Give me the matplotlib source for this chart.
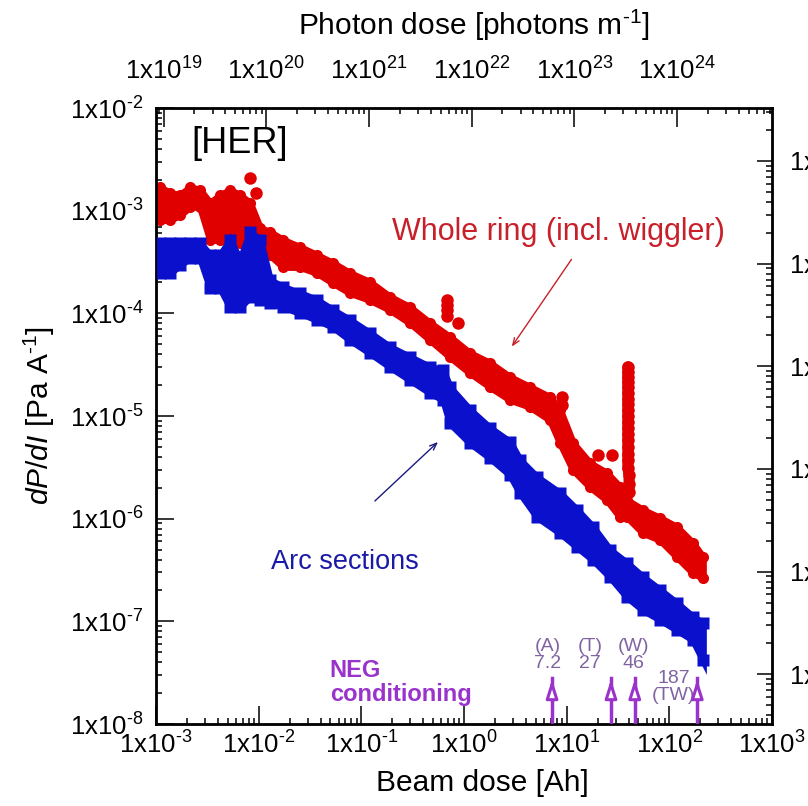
import numpy as np
import matplotlib.pyplot as plt
from matplotlib.ticker import LogLocator, NullFormatter, FuncFormatter

plt.rcParams["font.family"] = "Liberation Sans"
plt.rcParams["mathtext.fontset"] = "custom"
plt.rcParams["mathtext.rm"] = "Liberation Sans"
plt.rcParams["mathtext.it"] = "Liberation Sans:italic"

# Whole ring (incl. wiggler): upper / lower edge of the scatter band
red_x = [1.09e-3, 1.37e-3, 1.71e-3, 2.14e-3, 2.68e-3, 3.36e-3, 4.20e-3, 5.26e-3,
         6.58e-3, 8.23e-3, 1.03e-2, 1.29e-2, 1.73e-2, 2.52e-2, 3.70e-2, 5.28e-2,
         7.74e-2, 0.121, 0.190, 0.297, 0.466, 0.729, 1.14, 1.79, 2.80, 4.38,
         6.86, 8.59, 11.5, 16.8, 24.6, 33.0, 38.6, 55.2, 80.8, 118, 169, 212]
red_hi = [1.70e-3, 1.49e-3, 1.42e-3, 1.70e-3, 1.59e-3, 1.19e-3, 1.42e-3, 1.59e-3,
          1.42e-3, 1.19e-3, 6.79e-4, 6.21e-4, 5.19e-4, 4.43e-4, 3.70e-4, 3.10e-4,
          2.47e-4, 2.02e-4, 1.45e-4, 1.15e-4, 8.07e-5, 5.89e-5, 4.11e-5, 3.29e-5,
          2.40e-5, 1.92e-5, 1.53e-5, 1.15e-5, 5.47e-6, 3.49e-6, 2.79e-6, 2.04e-6,
          1.52e-6, 1.22e-6, 1.02e-6, 8.32e-7, 5.81e-7, 4.25e-7]
red_lo = [8.11e-4, 8.11e-4, 9.08e-4, 1.09e-3, 1.09e-3, 5.19e-4, 5.19e-4, 5.80e-4,
          4.85e-4, 6.79e-4, 4.14e-4, 3.70e-4, 2.83e-4, 2.83e-4, 2.47e-4, 1.98e-4,
          1.58e-4, 1.35e-4, 1.08e-4, 8.07e-5, 5.51e-5, 3.76e-5, 2.63e-5, 1.92e-5,
          1.44e-5, 1.23e-5, 9.17e-6, 5.47e-6, 2.99e-6, 2.04e-6, 1.52e-6, 1.04e-6,
          1.04e-6, 7.27e-7, 6.22e-7, 4.25e-7, 2.97e-7, 2.65e-7]

# isolated points of the whole ring
red_spike_x = [8.23e-3, 9.42e-3, 0.681, 0.681, 0.681, 0.681, 0.873, 8.98, 8.98,
               20.1, 27.5]
red_spike_y = [2.08e-3, 1.49e-3, 1.35e-4, 1.20e-4, 1.08e-4, 9.5e-5, 8.07e-5, 1.53e-5,
               1.28e-5, 4.18e-6, 4.18e-6]

# pressure burst of the whole ring near 40 Ah
red_burst_x = [39.4, 39.4, 39.4, 39.4, 39.4, 39.4, 39.4, 39.4, 39.4, 39.4, 39.4,
               39.4, 39.4, 39.4, 39.4, 39.4, 39.4, 39.4, 40.5, 40.5, 40.5]
red_burst_y = [3.01e-5, 2.70e-5, 2.41e-5, 2.15e-5, 1.90e-5, 1.68e-5, 1.48e-5, 1.30e-5,
               1.14e-5, 1.00e-5, 8.80e-6, 7.70e-6, 6.70e-6, 5.80e-6, 5.00e-6, 4.30e-6,
               3.70e-6, 3.15e-6, 2.65e-6, 2.20e-6, 1.80e-6]

# Arc sections: upper / lower edge of the scatter band
blue_x = [1.09e-3, 1.37e-3, 1.71e-3, 2.14e-3, 2.68e-3, 3.36e-3, 4.20e-3, 5.26e-3,
          6.58e-3, 8.23e-3, 1.03e-2, 1.29e-2, 1.73e-2, 2.52e-2, 3.70e-2, 5.28e-2,
          7.74e-2, 0.121, 0.190, 0.297, 0.466, 0.624, 0.729, 1.14, 1.79, 2.80,
          3.50, 5.13, 8.59, 12.6, 18.0, 26.4, 38.6, 55.2, 80.8, 118, 169, 212]
blue_hi = [4.85e-4, 4.85e-4, 4.85e-4, 4.85e-4, 4.85e-4, 3.70e-4, 3.70e-4, 5.19e-4,
           3.31e-4, 6.21e-4, 5.19e-4, 2.11e-4, 1.81e-4, 1.58e-4, 1.35e-4, 1.08e-4,
           8.63e-5, 6.45e-5, 4.71e-5, 3.76e-5, 3.01e-5, 2.81e-5, 1.90e-5, 1.15e-5,
           7.66e-6, 5.60e-6, 3.74e-6, 2.55e-6, 1.78e-6, 1.22e-6, 8.32e-7, 4.97e-7,
           3.71e-7, 2.71e-7, 2.03e-7, 1.51e-7, 1.11e-7, 9.67e-8]
blue_lo = [2.47e-4, 2.47e-4, 2.96e-4, 3.46e-4, 3.46e-4, 1.77e-4, 1.77e-4, 1.15e-4,
           1.15e-4, 1.45e-4, 1.35e-4, 1.26e-4, 1.15e-4, 1.01e-4, 8.63e-5, 7.38e-5,
           5.51e-5, 4.11e-5, 3.01e-5, 2.25e-5, 1.68e-5, 1.44e-5, 8.5e-6, 5.47e-6,
           3.91e-6, 2.67e-6, 1.78e-6, 1.04e-6, 7.27e-7, 5.31e-7, 3.97e-7, 2.71e-7,
           1.73e-7, 1.29e-7, 1.04e-7, 8.26e-8, 6.61e-8, 4.22e-8]

# NEG conditioning marks [Ah]
neg_dose = [7.2, 27, 46, 187]
neg_labels = ["(A)\n7.2", "(T)\n27", "(W)\n46", "187\n(TW)"]

# photon dose per beam dose [photons m^-1 / Ah]
photons_per_ah = 8.45e21

RED = "#e00000"
BLUE = "#0a10cc"
PURPLE = "#9933cc"


def sci_label(v, _):
    e = int(round(np.log10(v)))
    if e < 0:
        return f"1x10$^{{\\text{{-}}{-e}}}$"
    return f"1x10$^{{{e}}}$"


fig = plt.figure(figsize=(8.08, 8.06), dpi=100)
ax = fig.add_axes([0.1931, 0.1017, 0.7624, 0.7643])
ax.set_xscale("log")
ax.set_yscale("log")
ax.set_xlim(1e-3, 1e3)
ax.set_ylim(1e-8, 1e-2)

# data bands
ax.fill_between(red_x, red_lo, red_hi, facecolor=RED, edgecolor=RED, lw=5,
                joinstyle="round", zorder=2)
ax.plot(red_x, red_hi, "o", ms=8, color=RED, mec="none", zorder=2)
ax.plot(red_x, red_lo, "o", ms=8, color=RED, mec="none", zorder=2)
ax.plot(red_spike_x, red_spike_y, "o", ms=9, color=RED, mec="none", zorder=2)
ax.plot(red_burst_x, red_burst_y, "-o", ms=9, lw=8, color=RED, mec="none",
        solid_capstyle="round", zorder=2)

ax.fill_between(blue_x, blue_lo, blue_hi, facecolor=BLUE, edgecolor=BLUE, lw=5,
                joinstyle="miter", zorder=3)
ax.plot(blue_x, blue_hi, "s", ms=8, color=BLUE, mec="none", zorder=3)
ax.plot(blue_x, blue_lo, "s", ms=8, color=BLUE, mec="none", zorder=3)

# axes styling
for sp in ax.spines.values():
    sp.set_linewidth(2)
ax.xaxis.set_major_locator(LogLocator(base=10, numticks=20))
ax.xaxis.set_minor_locator(LogLocator(base=10, subs=np.arange(2, 10), numticks=20))
ax.yaxis.set_major_locator(LogLocator(base=10, numticks=20))
ax.yaxis.set_minor_locator(LogLocator(base=10, subs=np.arange(2, 10), numticks=20))
ax.xaxis.set_major_formatter(FuncFormatter(sci_label))
ax.yaxis.set_major_formatter(FuncFormatter(sci_label))
ax.xaxis.set_minor_formatter(NullFormatter())
ax.yaxis.set_minor_formatter(NullFormatter())
ax.tick_params(which="both", direction="in", top=False, right=False,
               labelsize=18.5, width=1.1)
ax.tick_params(which="major", length=13)
ax.tick_params(which="minor", length=4)
ax.tick_params(axis="x", pad=5)
ax.tick_params(axis="y", pad=9)

ax.set_xlabel("Beam dose [Ah]", fontsize=21.5, labelpad=8)
ax.xaxis.label.set_x(0.53)
ax.set_ylabel(r"$\it{dP/dI}$ [Pa A$^{\text{-}1}$]", fontsize=21.5, labelpad=9)

# top axis: photon dose
ax_top = ax.twiny()
ax_top.set_xscale("log")
ax_top.set_xlim(1e-3 * photons_per_ah, 1e3 * photons_per_ah)
ax_top.xaxis.set_major_locator(LogLocator(base=10, numticks=20))
ax_top.xaxis.set_minor_locator(LogLocator(base=10, subs=np.arange(2, 10), numticks=20))
ax_top.xaxis.set_major_formatter(FuncFormatter(sci_label))
ax_top.xaxis.set_minor_formatter(NullFormatter())
ax_top.tick_params(which="both", direction="in", labelsize=18.5, width=1.1, pad=17)
ax_top.tick_params(which="major", length=14)
ax_top.tick_params(which="minor", length=4)
ax_top.set_xlabel("Photon dose [photons m$^{\\text{-}1}$]", fontsize=21.5,
                  labelpad=16)
ax_top.xaxis.label.set_x(0.516)

# right axis (partly cut off in the original figure)
ax_r = ax.twinx()
ax_r.set_yscale("log")
ax_r.set_ylim(1e-8 * 10 ** 0.516, 1e-2 * 10 ** 0.516)
ax_r.yaxis.set_major_locator(LogLocator(base=10, numticks=20))
ax_r.yaxis.set_minor_locator(LogLocator(base=10, subs=np.arange(2, 10), numticks=20))
ax_r.yaxis.set_major_formatter(FuncFormatter(sci_label))
ax_r.yaxis.set_minor_formatter(NullFormatter())
ax_r.tick_params(which="both", direction="in", labelsize=18.5, width=1.1, pad=12)
ax_r.tick_params(which="major", length=11)
ax_r.tick_params(which="minor", length=4)

# annotations
ax.text(0.058, 0.943, "[HER]", transform=ax.transAxes, fontsize=26,
        va="center", ha="left")
ax.text(0.383, 0.799, "Whole ring (incl. wiggler)", transform=ax.transAxes,
        fontsize=22, color="#c8202a", va="center", ha="left")
ax.annotate("", xy=(0.575, 0.609), xytext=(0.677, 0.758),
            xycoords="axes fraction",
            arrowprops=dict(arrowstyle="->,head_length=0.5,head_width=0.2",
                            color="#c8202a", lw=1))
ax.text(0.427, 0.263, "Arc sections", transform=ax.transAxes,
        fontsize=19.5, color="#1a1aa8", va="center", ha="right")
ax.annotate("", xy=(0.461, 0.461), xytext=(0.352, 0.359),
            xycoords="axes fraction",
            arrowprops=dict(arrowstyle="->,head_length=0.5,head_width=0.2",
                            color="#1a1a80", lw=1))

ax.text(0.282, 0.068, "NEG\nconditioning", transform=ax.transAxes,
        fontsize=17, fontweight="bold", color=PURPLE, va="center", ha="left",
        linespacing=1.05)

label_dx = [-3, -15, -1, -17]
label_y = [0.112, 0.112, 0.112, 0.06]
for d, lab, dx, ly in zip(neg_dose, neg_labels, label_dx, label_y):
    ax.axvline(d, ymin=0, ymax=0.075, color=PURPLE, lw=2.5, zorder=4)
    ax.annotate("", xy=(d, 0.077), xytext=(d, 0.04),
                xycoords=("data", "axes fraction"),
                arrowprops=dict(arrowstyle="-|>,head_length=1.1,head_width=0.35",
                                color=PURPLE, fc="white", lw=2.2),
                zorder=5)
    ax.annotate(lab, xy=(d, ly), xycoords=("data", "axes fraction"),
                xytext=(dx, 0), textcoords="offset points",
                ha="center", va="center", fontsize=14, color="#8064a2",
                linespacing=0.95)

fig.savefig("out.png", dpi=100)
